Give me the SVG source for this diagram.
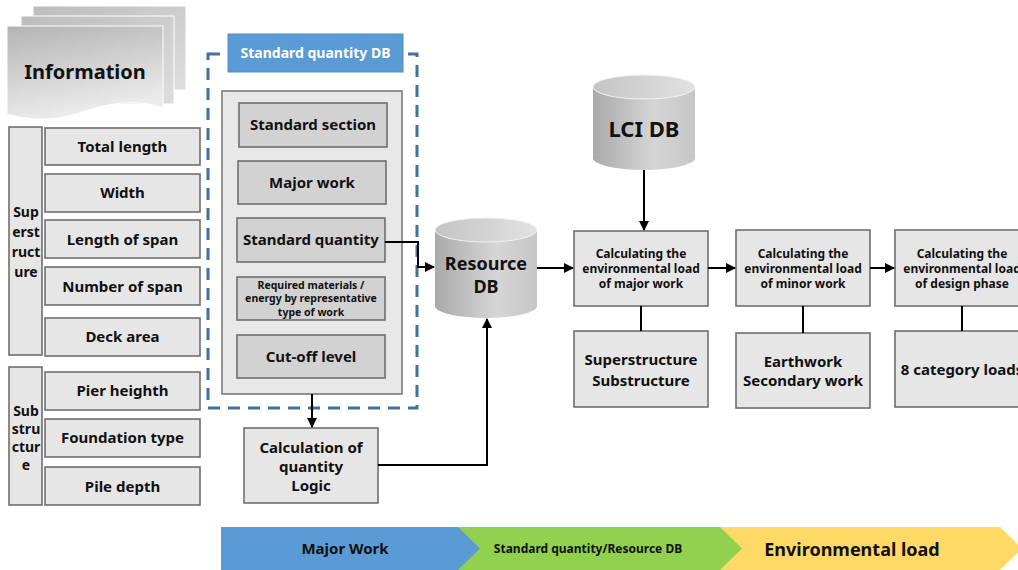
<svg xmlns="http://www.w3.org/2000/svg" width="1018" height="570" viewBox="0 0 1018 570">
<style>
text{font-family:"Noto Sans","Open Sans","Liberation Sans",sans-serif;font-weight:bold;fill:#111;text-anchor:middle}
.bx{fill:#e6e6e6;stroke:#6f6f6f;stroke-width:1.6}
.bi{fill:#d2d2d2;stroke:#6f6f6f;stroke-width:1.6}
.ln{fill:none;stroke:#000;stroke-width:2}
.t15{font-size:15px}
.t14{font-size:14px}
.t12{font-size:12px}
</style>
<defs>
<marker id="ah" markerWidth="10" markerHeight="10" refX="9" refY="5" orient="auto" markerUnits="userSpaceOnUse">
<path d="M0,0 L10,5 L0,10 Z" fill="#000"/>
</marker>
<linearGradient id="doc" x1="0" y1="0" x2="0.3" y2="1">
<stop offset="0" stop-color="#b4b4b4"/><stop offset="1" stop-color="#ececec"/>
</linearGradient>
<linearGradient id="docb" x1="0" y1="0" x2="1" y2="1">
<stop offset="0" stop-color="#bcbcbc"/><stop offset="1" stop-color="#dedede"/>
</linearGradient>
<linearGradient id="cyl" x1="0" y1="0" x2="1" y2="0">
<stop offset="0" stop-color="#a9a9a9"/><stop offset="0.6" stop-color="#d6d6d6"/><stop offset="1" stop-color="#c6c6c6"/>
</linearGradient>
<linearGradient id="cylt" x1="0" y1="0" x2="1" y2="0">
<stop offset="0" stop-color="#c4c4c4"/><stop offset="1" stop-color="#e2e2e2"/>
</linearGradient>
</defs>

<g id="information">
<rect x="33" y="6" width="153" height="84" fill="url(#docb)" stroke="#fff" stroke-width="1"/>
<rect x="21" y="16" width="153" height="88" fill="url(#docb)" stroke="#fff" stroke-width="1"/>
<path d="M7,26 H163 V108 C135,98 105,104 82,112 C58,121 32,121 7,114 Z" fill="url(#doc)" stroke="#fff" stroke-width="1"/>
<text x="85" y="79" style="font-size:20px">Information</text>
</g>

<g id="superstructure">
<rect class="bx" x="9" y="127" width="33" height="228"/>
<text class="t14" x="26" y="217">Sup</text>
<text class="t14" x="26" y="237">erst</text>
<text class="t14" x="26" y="257">ruct</text>
<text class="t14" x="26" y="277">ure</text>
</g>
<g id="total-length"><rect class="bx" x="45" y="128" width="155" height="37"/><text class="t15" x="122.5" y="152">Total length</text></g>
<g id="width"><rect class="bx" x="45" y="174" width="155" height="38"/><text class="t15" x="122.5" y="198">Width</text></g>
<g id="length-of-span"><rect class="bx" x="45" y="220" width="155" height="38"/><text class="t15" x="122.5" y="245">Length of span</text></g>
<g id="number-of-span"><rect class="bx" x="45" y="267" width="155" height="38"/><text class="t15" x="122.5" y="292">Number of span</text></g>
<g id="deck-area"><rect class="bx" x="45" y="318" width="155" height="38"/><text class="t15" x="122.5" y="342">Deck area</text></g>

<g id="substructure">
<rect class="bx" x="9" y="367" width="33" height="138"/>
<text class="t14" x="26" y="416">Sub</text>
<text class="t14" x="26" y="434">stru</text>
<text class="t14" x="26" y="452">ctur</text>
<text class="t14" x="26" y="470">e</text>
</g>
<g id="pier-heighth"><rect class="bx" x="45" y="372" width="155" height="38"/><text class="t15" x="122.5" y="396">Pier heighth</text></g>
<g id="foundation-type"><rect class="bx" x="45" y="419" width="155" height="38"/><text class="t15" x="122.5" y="443">Foundation type</text></g>
<g id="pile-depth"><rect class="bx" x="45" y="467" width="155" height="38"/><text class="t15" x="122.5" y="492">Pile depth</text></g>

<g id="standard-quantity-db">
<rect x="208" y="54" width="209" height="354" fill="none" stroke="#41719c" stroke-width="3" stroke-dasharray="12,8"/>
<rect x="228" y="34" width="175" height="38" fill="#5b9bd5" stroke="#4f8cc4" stroke-width="1"/>
<text x="315.5" y="58" style="font-size:14px;fill:#fff">Standard quantity DB</text>
<rect x="222" y="91" width="180" height="303" fill="#e8e8e8" stroke="#7a7a7a" stroke-width="1.6"/>
</g>
<g id="standard-section"><rect class="bi" x="239" y="103" width="148" height="44"/><text class="t15" x="313" y="130">Standard section</text></g>
<g id="major-work"><rect class="bi" x="238" y="161" width="148" height="43"/><text class="t15" x="312" y="188">Major work</text></g>
<g id="standard-quantity"><rect class="bi" x="237" y="218" width="148" height="44"/><text class="t15" x="311" y="245">Standard quantity</text></g>
<g id="required-materials"><rect class="bi" x="237" y="277" width="148" height="43"/>
<text x="311" y="289" style="font-size:10.5px">Required materials /</text>
<text x="311" y="302" style="font-size:10.5px">energy by representative</text>
<text x="311" y="316" style="font-size:10.5px">type of work</text></g>
<g id="cut-off-level"><rect class="bi" x="237" y="335" width="148" height="43"/><text class="t15" x="311" y="362">Cut-off level</text></g>

<g id="calc-quantity-logic"><rect class="bx" x="244" y="428" width="134" height="75"/>
<text class="t15" x="311" y="453">Calculation of</text>
<text class="t15" x="311" y="472">quantity</text>
<text class="t15" x="311" y="491">Logic</text></g>

<g id="resource-db">
<path d="M435,230 V306 A51,12 0 0 0 537,306 V230 Z" fill="url(#cyl)"/>
<ellipse cx="486" cy="230" rx="51" ry="12" fill="url(#cylt)" stroke="#f2f2f2" stroke-width="1"/>
<text x="486" y="270" style="font-size:18px">Resource</text>
<text x="486" y="293" style="font-size:18px">DB</text>
</g>

<g id="lci-db">
<path d="M593,87 V158 A51,12 0 0 0 695,158 V87 Z" fill="url(#cyl)"/>
<ellipse cx="644" cy="87" rx="51" ry="12" fill="url(#cylt)" stroke="#f2f2f2" stroke-width="1"/>
<text x="644" y="137" style="font-size:22px">LCI DB</text>
</g>

<g id="calc-major"><rect class="bx" x="574" y="231" width="134" height="75"/>
<text class="t12" x="641" y="258">Calculating the</text>
<text class="t12" x="641" y="273">environmental load</text>
<text class="t12" x="641" y="288">of major work</text></g>
<g id="super-sub"><rect class="bx" x="574" y="331" width="134" height="76"/>
<text class="t15" x="641" y="365">Superstructure</text>
<text class="t15" x="641" y="386">Substructure</text></g>

<g id="calc-minor"><rect class="bx" x="736" y="230" width="134" height="76"/>
<text class="t12" x="803" y="258">Calculating the</text>
<text class="t12" x="803" y="273">environmental load</text>
<text class="t12" x="803" y="288">of minor work</text></g>
<g id="earthwork"><rect class="bx" x="736" y="333" width="134" height="75"/>
<text class="t15" x="803" y="367">Earthwork</text>
<text class="t15" x="803" y="386">Secondary work</text></g>

<g id="calc-design"><rect class="bx" x="895" y="230" width="134" height="76"/>
<text class="t12" x="962" y="258">Calculating the</text>
<text class="t12" x="962" y="273">environmental load</text>
<text class="t12" x="962" y="288">of design phase</text></g>
<g id="category-loads"><rect class="bx" x="895" y="331" width="134" height="76"/>
<text class="t15" x="962" y="375">8 category loads</text></g>

<g id="connectors">
<path class="ln" d="M312,394 V427" marker-end="url(#ah)"/>
<path class="ln" d="M385,242 H418 V267 H434" marker-end="url(#ah)"/>
<path class="ln" d="M378,465 H487 V319" marker-end="url(#ah)"/>
<path class="ln" d="M537,268 H573" marker-end="url(#ah)"/>
<path class="ln" d="M644,170 V230" marker-end="url(#ah)"/>
<path class="ln" d="M641,306 V331"/>
<path class="ln" d="M708,268 H735" marker-end="url(#ah)"/>
<path class="ln" d="M803,306 V333"/>
<path class="ln" d="M870,268 H894" marker-end="url(#ah)"/>
<path class="ln" d="M962,306 V331"/>
</g>

<g id="phase-bar">
<polygon points="720,527 1000,527 1022,548.5 1000,570 720,570" fill="#ffd966"/>
<polygon points="458,527 720,527 742,548.5 720,570 458,570" fill="#92d050"/>
<polygon points="221,527 458,527 480,548.5 458,570 221,570" fill="#5b9bd5"/>
<text x="345" y="554" style="font-size:15px">Major Work</text>
<text x="588" y="553" style="font-size:12px">Standard quantity/Resource DB</text>
<text x="852" y="556" style="font-size:18px">Environmental load</text>
</g>
</svg>
